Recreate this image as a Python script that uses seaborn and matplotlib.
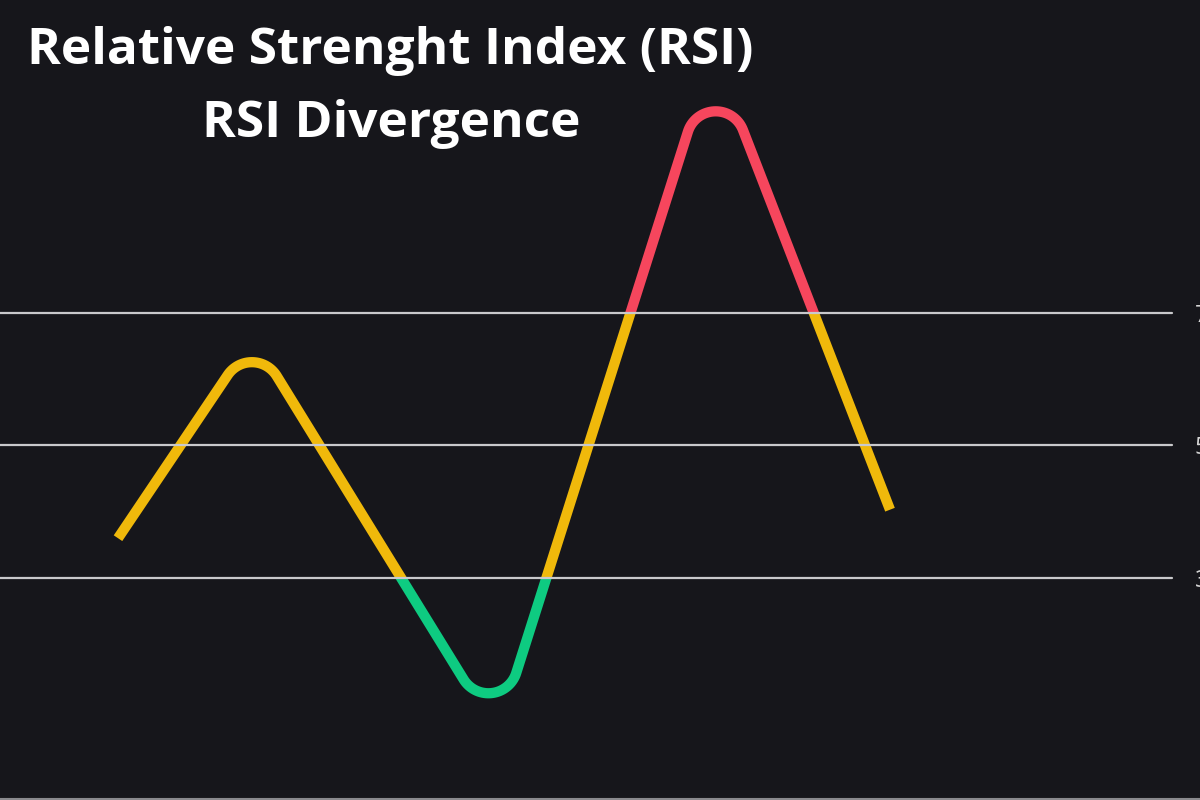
import numpy as np
import matplotlib
matplotlib.use("Agg")
import matplotlib.pyplot as plt
import seaborn as sns
from matplotlib.patches import Rectangle
from matplotlib.path import Path
from matplotlib.transforms import Affine2D
from matplotlib.patheffects import AbstractPathEffect

# ---- data ----
bars = [11.8, 25.3, 49.7, 71.3, 89.0]
rsi = [36.0, 66.3, 6.5, 109.3, 40.3]
levels = [30, 50, 70]
level_labels = ["30", "50", "70"]
title_lines = ["Relative Strenght Index (RSI)", "RSI Divergence"]

BG = "#16161b"
YELLOW = "#F0B90B"
GREEN = "#0ECB81"
RED = "#F6465D"
GRID = "#c9c9cc"


class RoundCorners(AbstractPathEffect):
    """Draw a polyline with circular fillets at its corners (style only)."""

    def __init__(self, radius_pt=19):
        super().__init__()
        self.radius_pt = radius_pt

    def draw_path(self, renderer, gc, tpath, affine, rgbFace=None):
        pts = affine.transform(tpath.vertices)
        r = renderer.points_to_pixels(self.radius_pt)
        out = [pts[0]]
        for i in range(1, len(pts) - 1):
            p0, p1, p2 = pts[i - 1], pts[i], pts[i + 1]
            v1, v2 = p0 - p1, p2 - p1
            l1, l2 = np.hypot(*v1), np.hypot(*v2)
            u1, u2 = v1 / l1, v2 / l2
            th = np.arccos(np.clip(np.dot(u1, u2), -1, 1))
            t = r / np.tan(th / 2)
            t = min(t, 0.45 * l1, 0.45 * l2)
            rr = t * np.tan(th / 2)
            a = p1 + u1 * t
            b = p1 + u2 * t
            bis = (u1 + u2) / np.hypot(*(u1 + u2))
            c = p1 + bis * rr / np.sin(th / 2)
            aa = np.arctan2(*(a - c)[::-1])
            ab = np.arctan2(*(b - c)[::-1])
            d = (ab - aa + np.pi) % (2 * np.pi) - np.pi
            for s in np.linspace(0, 1, 40):
                ang = aa + d * s
                out.append(c + rr * np.array([np.cos(ang), np.sin(ang)]))
        out.append(pts[-1])
        renderer.draw_path(gc, Path(np.array(out)), Affine2D(), rgbFace)


sns.set_theme(style="dark")
plt.rcParams.update({
    "figure.facecolor": BG,
    "axes.facecolor": BG,
    "savefig.facecolor": BG,
})
plt.rcParams["font.family"] = ["Open Sans", "DejaVu Sans"]

fig = plt.figure(figsize=(12, 8), dpi=100)
ax = fig.add_axes([0, 1.5 / 800, 1, 1 - 1.5 / 800])
ax.set_xlim(0, 120)
ax.set_ylim(-3.3, 117.25)

bands = [(30, 70, YELLOW), (-1000, 30, GREEN), (70, 1000, RED)]
for lo, hi, col in bands:
    sns.lineplot(x=bars, y=rsi, ax=ax, color=col, lw=7.4, sort=False,
                 estimator=None, legend=False)
    line = ax.lines[-1]
    line.set_solid_capstyle("butt")
    line.set_solid_joinstyle("round")
    line.set_path_effects([RoundCorners(21)])
    clip = Rectangle((-1000, lo), 3000, hi - lo, transform=ax.transData)
    line.set_clip_path(clip)
    line.set_zorder(2)

for lv in levels:
    ax.axhline(lv, xmin=0, xmax=1172 / 1200, color=GRID, lw=1.6, zorder=3)

ax.yaxis.tick_right()
ax.set_yticks(levels)
ax.set_yticklabels(level_labels)
ax.tick_params(axis="y", length=0, pad=-3.6, labelsize=17, labelcolor="#d6d6d6")
ax.set_xticks([])
ax.grid(False)
for side in ["top", "left", "right"]:
    ax.spines[side].set_visible(False)
ax.spines["bottom"].set_visible(True)
ax.spines["bottom"].set_color("#8a8a8e")
ax.spines["bottom"].set_linewidth(1.5)
ax.set_xlabel("")
ax.set_ylabel("")

fig.text(390 / 1200, 1 - 64 / 800, title_lines[0], ha="center", va="baseline",
         color="white", fontsize=37, fontweight="bold")
fig.text(391 / 1200, 1 - 137 / 800, title_lines[1], ha="center", va="baseline",
         color="white", fontsize=37, fontweight="bold")

fig.savefig("out.png", dpi=100)
